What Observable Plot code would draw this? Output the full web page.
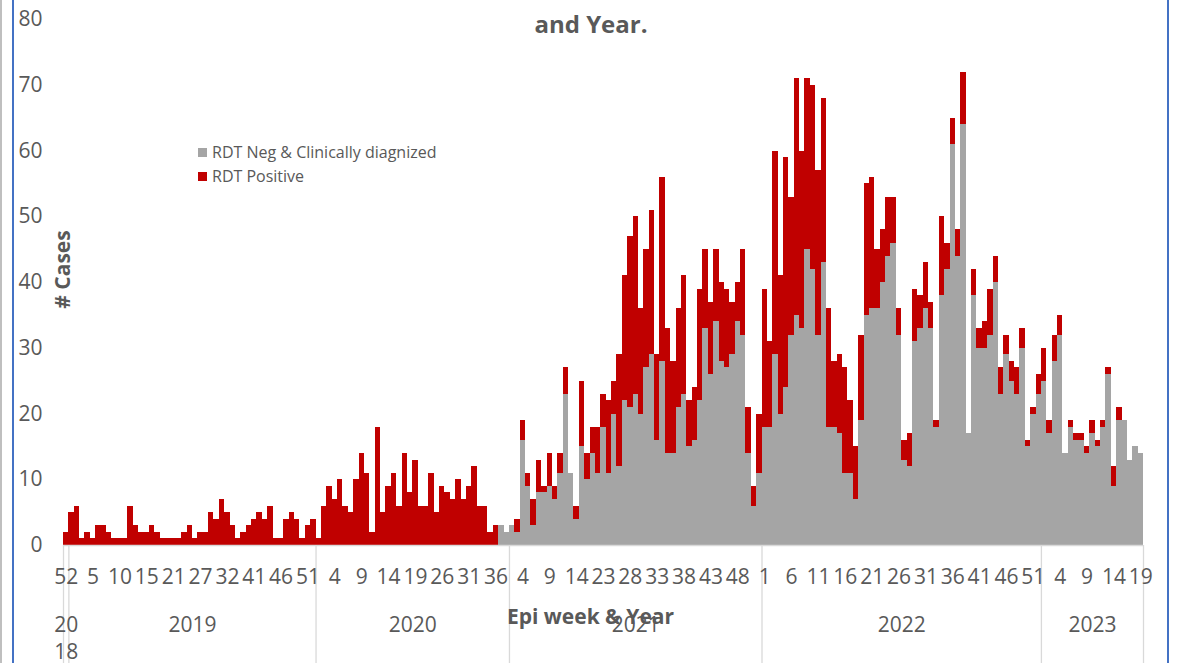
<!DOCTYPE html>
<html><head><meta charset="utf-8">
<script src="https://cdn.jsdelivr.net/npm/d3@7"></script>
<script src="https://cdn.jsdelivr.net/npm/@observablehq/plot@0.6"></script>
<style>
html,body{margin:0;padding:0;background:#fff;overflow:hidden}
#wrap{position:relative;width:1179px;height:663px;font-family:"Open Sans",sans-serif;color:#595959;overflow:hidden}
#wrap svg{position:absolute;left:0;top:0}
.title{position:absolute;left:0;width:1182px;top:8px;text-align:center;font-weight:bold;font-size:24px;line-height:32px}
.leg{position:absolute;left:198px;font-size:16px;line-height:20px;white-space:nowrap}
.leg i{display:inline-block;width:9px;height:9px;margin-right:5px;vertical-align:1px}
.bl{position:absolute;top:0;bottom:0;width:2px;background:#4472C4}
.gl{position:absolute;top:0;bottom:0;left:0;width:2px;background:#BFBFBF}
</style></head><body><div id="wrap"></div>
<script>
// ---- data ----
const yearNames = ["2018", "2019", "2020", "2021", "2022", "2023"];
const weeks2018 = [52];
const weeks2019 = [1,2,3,4,5,6,7,8,9,10,11,12,13,14,15,16,17,18,20,21,22,23,25,26,27,28,29,30,31,32,33,34,35,36,41,42,43,44,45,46,47,48,49,50,51,52];
const weeks2020 = [1,2,3,4,5,6,7,8,9,10,11,12,13,14,15,16,17,18,19,22,23,24,25,26,27,28,29,30,31,32,33,34,35,36,37,38];
const weeks2021 = [2,3,4,5,6,7,8,9,10,11,12,13,14,19,20,21,22,23,24,25,26,27,28,29,30,31,32,33,34,35,36,37,38,39,40,41,42,43,44,45,46,47,48,49,50,51,52];
const weeks2022 = [1,2,3,4,5,6,7,8,9,10,11,12,13,14,15,16,17,18,19,20,21,22,23,24,25,26,27,28,29,30,31,32,33,34,35,36,37,38,39,40,41,42,43,44,45,46,47,48,49,50,51,52];
const weeks2023 = [1,2,3,4,5,6,7,8,9,10,11,12,13,14,15,16,17,18,19];

// RDT Neg & Clinically diagnized (grey)
const clinical = [
  0,0,0,0,0,0,0,0,0,0, 0,0,0,0,0,0,0,0,0,0, 0,0,0,0,0,0,0,0,0,0,
  0,0,0,0,0,0,0,0,0,0, 0,0,0,0,0,0,0,0,0,0, 0,0,0,0,0,0,0,0,0,0,
  0,0,0,0,0,0,0,0,0,0, 0,0,0,0,0,0,0,0,0,0, 0,
  3,2,3,2,16,9,3,8,8,9,
  7,11,23,11,4,15,10,14,11,18,
  11,20,12,22,21,23,20,27,29,16,
  28,14,14,21,23,15,16,22,33,26,
  34,28,27,29,34,32,14,6,11,18,
  18,29,20,24,32,35,33,45,42,32,
  43,18,18,17,11,11,7,19,35,36,
  36,40,44,46,32,13,12,31,33,36,
  33,18,38,42,61,44,64,17,38,30,
  30,32,40,23,29,25,23,30,15,20,
  23,25,17,28,32,14,18,16,16,14,
  17,15,18,26,9,19,19,13,15,14
];
// RDT Positive (red)
const positive = [
  2,5,6,1,2,1,3,3,2,1, 1,1,6,3,2,2,3,2,1,1, 1,1,2,3,1,2,2,5,4,7,
  5,3,1,2,3,4,5,4,6,1, 1,4,5,4,1,3,4,1,6,9, 7,10,6,5,10,14,11,2,18,5,
  9,11,6,14,8,13,6,6,11,5, 9,8,7,10,7,9,12,6,6,2, 3,
  0,0,0,2,3,2,4,5,1,5,
  2,3,4,0,2,10,4,4,7,5,
  11,5,17,19,26,27,16,18,22,13,
  28,19,14,15,18,7,8,17,12,11,
  11,12,12,8,6,13,7,3,9,21,
  13,31,21,35,21,36,27,26,28,25,
  25,18,10,12,16,11,8,13,20,20,
  9,8,9,7,4,3,5,8,5,7,
  4,1,12,4,4,4,8,0,4,3,
  4,7,4,4,3,3,4,3,1,1,
  3,5,2,4,3,0,1,1,1,1,
  2,1,1,1,3,2,0,0,0,0
];
const yTicks = [0,10,20,30,40,50,60,70,80];
const seriesNames = ["RDT Neg & Clinically diagnized", "RDT Positive"];
const seriesColors = ["#A5A5A5", "#C00000"];

// ---- build table ----
const weekLists = [weeks2018, weeks2019, weeks2020, weeks2021, weeks2022, weeks2023];
const rows = [];
const years = [];
weekLists.forEach((wl, k) => {
  const start = rows.length;
  wl.forEach(w => {
    const i = rows.length;
    rows.push({i, i1: i + 1, year: yearNames[k], week: w, clinical: clinical[i], positive: positive[i], total: clinical[i] + positive[i]});
  });
  years.push({label: yearNames[k] === "2018" ? "20\n18" : yearNames[k], start, end: rows.length, mid: (start + rows.length) / 2});
});
const N = rows.length;
const bounds = [0, ...years.map(d => d.end)];
const tickIdx = rows.filter(d => d.i % 5 === 0).map(d => d.i + 0.5);
const weekAt = new Map(rows.map(d => [d.i + 0.5, d.week]));
const ink = "#595959";

const chart = Plot.plot({
  width: 1179, height: 663,
  marginLeft: 63, marginRight: 36, marginTop: 19, marginBottom: 118,
  x: {type: "linear", domain: [0, N]},
  y: {domain: [0, 80]},
  style: {fontFamily: "'Open Sans', sans-serif", color: ink, background: "transparent", overflow: "visible"},
  marks: [
    Plot.rect(rows, {x1: "i", x2: "i1", y1: 0, y2: "clinical", fill: seriesColors[0], shapeRendering: "crispEdges"}),
    Plot.rect(rows, {x1: "i", x2: "i1", y1: "clinical", y2: "total", fill: seriesColors[1], shapeRendering: "crispEdges"}),
    Plot.ruleY([0], {stroke: "#D9D9D9", strokeWidth: 1.3}),
    Plot.ruleX(bounds, {y1: 0, y2: 0, insetBottom: -118, stroke: "#D9D9D9", strokeWidth: 1.3}),
    Plot.axisY({ticks: yTicks, tickSize: 0, tickPadding: 21, fontSize: 21, label: null, color: ink}),
    Plot.axisX({ticks: tickIdx, tickSize: 0, tickPadding: 24, fontSize: 21, label: null, color: ink, tickFormat: v => weekAt.get(v)}),
    Plot.text(years, {x: "mid", text: "label", frameAnchor: "bottom", lineAnchor: "top", dy: 67, fontSize: 21, lineHeight: 1.3, fill: ink}),
    Plot.text(["Epi week & Year"], {frameAnchor: "bottom", text: d => d, dx: -13, dy: 78, fontSize: 21, fontWeight: "bold", fill: ink}),
    Plot.text(["# Cases"], {frameAnchor: "left", textAnchor: "middle", text: d => d, rotate: -90, dy: -13, fontSize: 21, fontWeight: "bold", fill: ink})
  ]
});

const wrap = document.getElementById("wrap");
wrap.appendChild(chart);
wrap.insertAdjacentHTML("beforeend", `
  <div class="gl"></div>
  <div class="bl" style="left:12px"></div>
  <div class="bl" style="left:1167px"></div>
  <div class="title">and Year.</div>
  <div class="leg" style="top:142px"><i style="background:${seriesColors[0]}"></i>${seriesNames[0]}</div>
  <div class="leg" style="top:166px"><i style="background:${seriesColors[1]}"></i>${seriesNames[1]}</div>
`);
</script>
</body></html>
